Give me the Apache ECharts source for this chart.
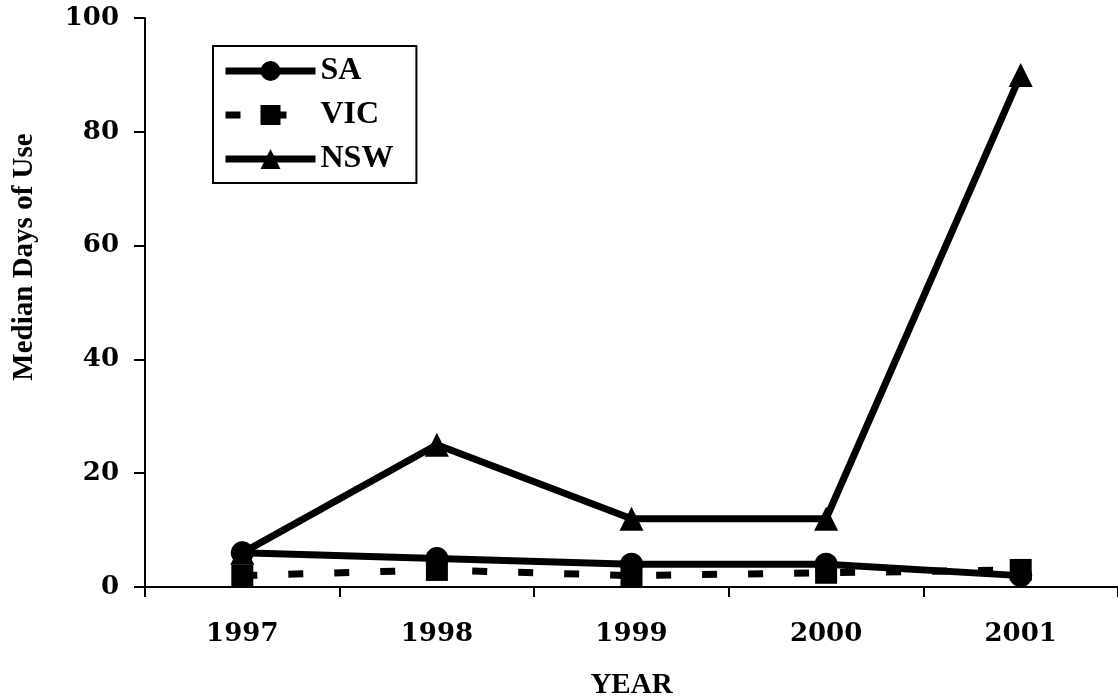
<!DOCTYPE html>
<html>
<head>
<meta charset="utf-8">
<script src="https://cdn.jsdelivr.net/npm/echarts@6/dist/echarts.min.js"></script>
<style>html,body{margin:0;padding:0;background:#fff}#c{width:1118px;height:700px}</style>
</head>
<body>
<div id="c"></div>
<script>
var years = ['1997', '1998', '1999', '2000', '2001'];
var saValues = [6, 5, 4, 4, 2];
var vicValues = [2, 3, 2, 2.5, 3];
var nswValues = [6, 25, 12, 12, 90];
var yTicks = [0, 20, 40, 60, 80, 100];

var NUMFONT = '"DejaVu Serif", serif';
var TXTFONT = '"Liberation Serif", "DejaVu Serif", serif';
var chart = echarts.init(document.getElementById('c'));
function ser(name, data, symbol, size, dash, z) {
  return {
    name: name, type: 'line', data: data, z: z,
    symbol: symbol, symbolSize: size,
    itemStyle: { color: '#000' },
    lineStyle: { color: '#000', width: 7, type: dash ? [15, 31] : 'solid' },
    emphasis: { disabled: true },
    animation: false
  };
}
chart.setOption({
  animation: false,
  grid: { left: 145, right: 0, top: 18, bottom: 113, containLabel: false, outerBoundsMode: 'none' },
  legend: {
    orient: 'vertical', left: 213, top: 46,
    borderColor: '#000', borderWidth: 2, padding: [9, 23, 8, 9],
    itemWidth: 90, itemHeight: 25, itemGap: 12,
    lineStyle: { width: 7 },
    textStyle: { fontFamily: TXTFONT, fontWeight: 'bold', fontSize: 32, color: '#000' },
    data: ['SA', 'VIC', 'NSW']
  },
  graphic: [{
    type: 'text', x: 25, y: 257, rotation: Math.PI / 2,
    style: { text: 'Median Days of Use', fontFamily: TXTFONT, fontWeight: 'bold', fontSize: 29,
      fill: '#000', align: 'center', verticalAlign: 'middle' }
  }],
  xAxis: {
    type: 'category', data: years, boundaryGap: true,
    name: 'YEAR', nameLocation: 'middle', nameGap: 84,
    nameTextStyle: { fontFamily: TXTFONT, fontWeight: 'bold', fontSize: 29, color: '#000' },
    axisLine: { lineStyle: { color: '#000', width: 2 } },
    axisTick: { show: true, length: 10, lineStyle: { color: '#000', width: 2 } },
    axisLabel: { margin: 34, fontFamily: NUMFONT, fontWeight: 'bold', fontSize: 26, color: '#000' }
  },
  yAxis: {
    type: 'value', min: yTicks[0], max: yTicks[yTicks.length - 1], interval: 20,
    axisLine: { show: true, lineStyle: { color: '#000', width: 2 } },
    axisTick: { show: true, length: 11, lineStyle: { color: '#000', width: 2 } },
    splitLine: { show: false },
    axisLabel: { margin: 26, fontFamily: NUMFONT, fontWeight: 'bold', fontSize: 26, color: '#000' }
  },
  series: [
    ser('SA', saValues, 'circle', 23, false, 3),
    ser('VIC', vicValues, 'rect', 22, true, 4),
    ser('NSW', nswValues, 'triangle', 24, false, 2)
  ]
});
</script>
</body>
</html>
